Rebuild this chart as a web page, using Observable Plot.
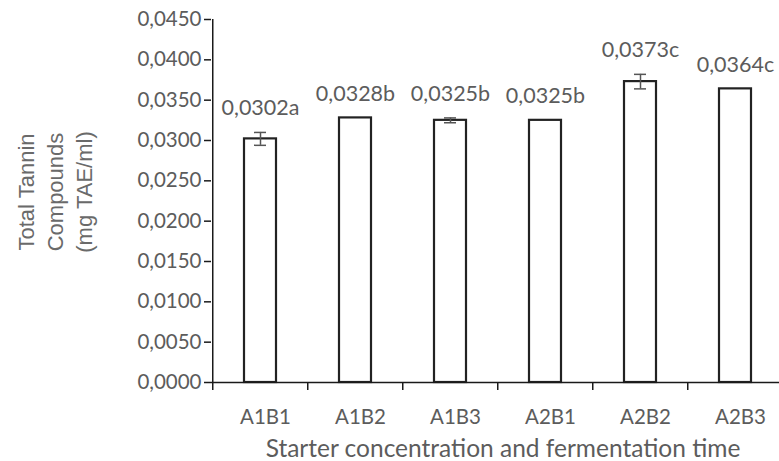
<!DOCTYPE html>
<html><head><meta charset="utf-8">
<script src="https://cdn.jsdelivr.net/npm/d3@7"></script>
<script src="https://cdn.jsdelivr.net/npm/@observablehq/plot@0.6"></script>
<style>html,body{margin:0;padding:0;background:#fff;overflow:hidden}</style>
</head><body><div id="chart"></div>
<script>
const categories = ["A1B1", "A1B2", "A1B3", "A2B1", "A2B2", "A2B3"];
const values = [0.0302, 0.0328, 0.0325, 0.0325, 0.0373, 0.0364];
const errors = [0.0008, 0, 0.0003, 0, 0.0009, 0];
const letters = ["a", "b", "b", "b", "c", "c"];
const yTicks = [0, 0.005, 0.010, 0.015, 0.020, 0.025, 0.030, 0.035, 0.040, 0.045];
const xTitle = "Starter concentration and fermentation time";
const yTitle = ["Total Tannin", "Compounds", "(mg TAE/ml)"];

const W = 779, H = 461, ML = 211, MR = -5, MT = 19, MB = 79;
const step = (W - ML - MR) / categories.length;
const FONT = "Lato, 'Open Sans', sans-serif";
const TXT = "#5c5c5c";
const fmt = v => v.toFixed(4).replace(".", ",");

const data = categories.map((c, i) => ({cat: c, v: values[i], e: errors[i], lab: fmt(values[i]) + letters[i]}));
const withErr = data.filter(d => d.e > 0);

const chart = Plot.plot({
  width: W, height: H,
  marginLeft: ML, marginRight: MR, marginTop: MT, marginBottom: MB,
  style: {fontFamily: FONT, background: "#fff", overflow: "hidden"},
  x: {domain: categories, paddingInner: 0.665, paddingOuter: 0.3325, axis: null},
  y: {domain: [0, 0.045], axis: null},
  marks: [
    Plot.barY(data, {x: "cat", y: "v", fill: "white", stroke: "#222", strokeWidth: 2.2}),
    Plot.ruleX(withErr, {x: "cat", y1: d => d.v - d.e, y2: d => d.v + d.e, stroke: "#555", strokeWidth: 1.5}),
    Plot.tickY(withErr, {x: "cat", y: d => d.v + d.e, stroke: "#555", strokeWidth: 1.5, insetLeft: 10, insetRight: 10}),
    Plot.tickY(withErr, {x: "cat", y: d => d.v - d.e, stroke: "#555", strokeWidth: 1.5, insetLeft: 10, insetRight: 10}),
    Plot.text(data, {x: "cat", y: d => d.v + d.e, text: "lab", dy: -17, lineAnchor: "bottom", fill: TXT, fontSize: 21.5}),
    // axes
    Plot.ruleY([0], {stroke: "#1a1a1a", strokeWidth: 1.5}),
    Plot.ruleX([categories[0]], {x: d => d, dx: -step / 2, y1: 0, y2: 0.045, stroke: "#1a1a1a", strokeWidth: 1.5}),
    Plot.axisY({ticks: yTicks, tickSize: 7, tickPadding: 3, tickFormat: fmt, fontSize: 20.5, color: TXT, stroke: "#1a1a1a", strokeWidth: 1.5, label: null}),
    Plot.axisX({ticks: categories, tickSize: 8, tickFormat: () => "", dx: -step / 2, stroke: "#1a1a1a", strokeWidth: 1.5, label: null}),
    Plot.axisX({ticks: categories, tickSize: 0, tickPadding: 27, dx: 5, fontSize: 20.5, color: TXT, label: null}),
    Plot.text([xTitle], {frameAnchor: "bottom", dy: 74, dx: 5, lineAnchor: "bottom", fill: TXT, fontSize: 24.5}),
    Plot.text([yTitle.join("\n")], {frameAnchor: "left", textAnchor: "middle", dx: -158, dy: -9, rotate: -90, lineAnchor: "middle", lineHeight: 1.32, fill: "#6a6a6a", fontSize: 22, fontFamily: "'Liberation Sans', Arial, sans-serif"})
  ]
});
document.getElementById("chart").appendChild(chart);
</script>
</body></html>
